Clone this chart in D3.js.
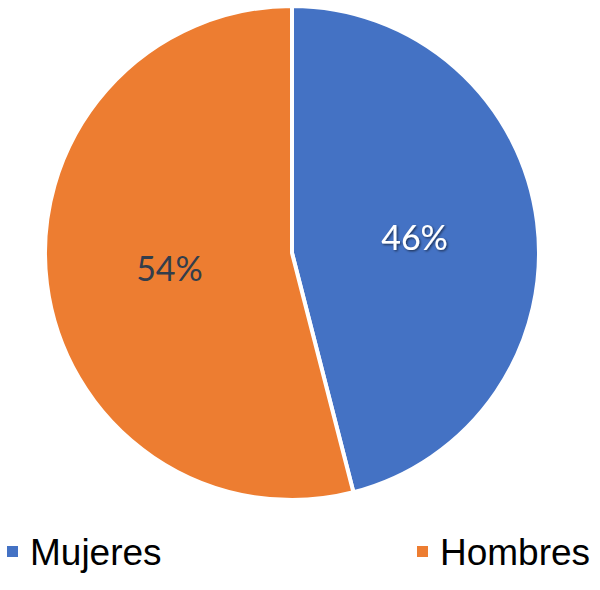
<!DOCTYPE html>
<html><head><meta charset="utf-8">
<script src="https://cdn.jsdelivr.net/npm/d3@7"></script>
<style>html,body{margin:0;padding:0;background:#fff;}</style>
</head><body>
<svg id="c" width="600" height="590"></svg>
<script>
const categories = ["Mujeres", "Hombres"];
const values = [46, 54];
const labels = ["46%", "54%"];
const colors = ["#4472C4", "#ED7D31"];
const labelColors = ["#ffffff", "#333d4b"];

const svg = d3.select("#c");
const defs = svg.append("defs");
const f = defs.append("filter").attr("id","sh").attr("x","-20%").attr("y","-20%").attr("width","140%").attr("height","140%");
f.append("feDropShadow").attr("dx",1.2).attr("dy",1.2).attr("stdDeviation",0.8).attr("flood-color","#000").attr("flood-opacity",0.6);

const cx = 292, cy = 253, r = 247;
const pie = d3.pie().sort(null).value(d => d)(values);
const arc = d3.arc().innerRadius(0).outerRadius(r);
const labelArc = d3.arc().innerRadius(r*0.5).outerRadius(r*0.5);
const g = svg.append("g").attr("transform", `translate(${cx},${cy})`);
g.selectAll("path").data(pie).join("path")
  .attr("d", arc).attr("fill", (d,i) => colors[i])
  .attr("stroke", "#fff").attr("stroke-width", 4).attr("stroke-linejoin","miter");
g.selectAll("text").data(pie).join("text")
  .attr("transform", d => `translate(${labelArc.centroid(d)})`)
  .attr("text-anchor","middle").attr("dy","0.36em")
  .attr("font-family","Lato, 'Open Sans', sans-serif")
  .attr("font-size", 34)
  .attr("fill", (d,i) => labelColors[i])
  .attr("filter", (d,i) => i===0 ? "url(#sh)" : null)
  .text((d,i) => labels[i]);

const legX = [7, 417];
const lg = svg.append("g");
categories.forEach((c,i) => {
  lg.append("rect").attr("x", legX[i]).attr("y", 546).attr("width", 11).attr("height", 11).attr("fill", colors[i]);
  lg.append("text").attr("x", legX[i] + 23).attr("y", 565)
    .attr("font-family","'Liberation Sans', Arial, sans-serif").attr("font-size", 37)
    .attr("fill","#000").text(c);
});
</script>
</body></html>
